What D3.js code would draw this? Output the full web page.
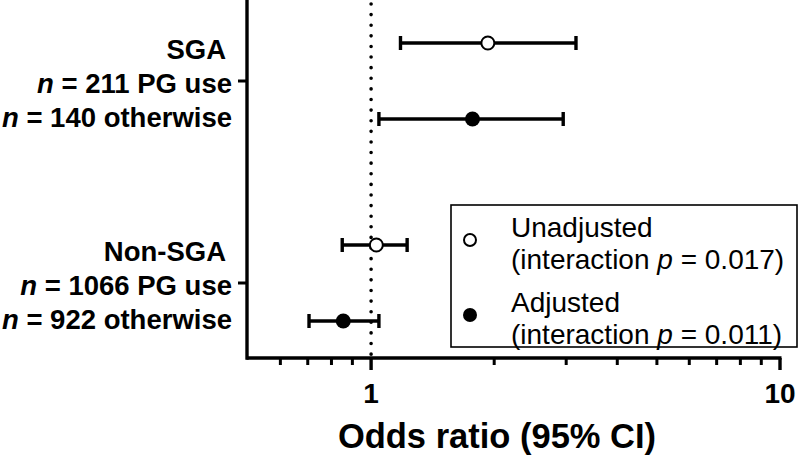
<!DOCTYPE html>
<html>
<head>
<meta charset="utf-8">
<script src="https://cdn.jsdelivr.net/npm/d3@7/dist/d3.min.js"></script>
<style>
  html, body { margin: 0; padding: 0; background: #fff; }
  svg { display: block; font-family: "Liberation Sans", Arial, Helvetica, sans-serif; }
</style>
</head>
<body>
<svg id="chart" width="800" height="459"></svg>
<script>
// ---- data ----
const groups = ["SGA", "Non-SGA"];
const groupN1 = ["211 PG use", "1066 PG use"];
const groupN2 = ["140 otherwise", "922 otherwise"];
const series = ["Unadjusted", "Adjusted"];
const seriesP = ["0.017", "0.011"];
const unadjOR = [1.93, 1.03];
const unadjLo = [1.18, 0.85];
const unadjHi = [3.17, 1.225];
const adjOR = [1.77, 0.855];
const adjLo = [1.045, 0.705];
const adjHi = [2.95, 1.045];
const majorTicks = [1, 10];
const minorTicks = [0.6, 0.7, 0.8, 0.9, 2, 3, 4, 5, 6, 7, 8, 9];

const rows = [];
groups.forEach((g, i) => {
  rows.push({ group: g, series: "Unadjusted", or: unadjOR[i], lo: unadjLo[i], hi: unadjHi[i] });
  rows.push({ group: g, series: "Adjusted", or: adjOR[i], lo: adjLo[i], hi: adjHi[i] });
});

// ---- layout ----
const svg = d3.select("#chart");
const plotLeft = 248, plotRight = 780, plotTop = 0, plotBottom = 358;

const x = d3.scaleLog().domain([0.5, 10]).range([plotLeft, plotRight]);
const yGroup = d3.scalePoint().domain(groups).range([81, 283]);
const yOff = d3.scalePoint().domain(series).range([-38, 38]);
const yRow = d => yGroup(d.group) + yOff(d.series);

// reference dotted line at OR = 1
svg.append("line")
  .attr("x1", x(1)).attr("x2", x(1))
  .attr("y1", plotTop + 4).attr("y2", plotBottom)
  .attr("stroke", "#000").attr("stroke-width", 3.6)
  .attr("stroke-linecap", "round")
  .attr("stroke-dasharray", "0.01,10.6");

// axes
const axisG = svg.append("g");
axisG.append("line")
  .attr("x1", plotLeft - 1.5).attr("x2", plotRight + 1.5)
  .attr("y1", plotBottom).attr("y2", plotBottom)
  .attr("stroke", "#000").attr("stroke-width", 3.4);
axisG.append("line")
  .attr("x1", plotLeft - 1).attr("x2", plotLeft - 1)
  .attr("y1", plotTop).attr("y2", plotBottom + 1.7)
  .attr("stroke", "#000").attr("stroke-width", 3.4);

// x ticks
axisG.selectAll(".minor").data(minorTicks).join("line")
  .attr("x1", d => x(d)).attr("x2", d => x(d))
  .attr("y1", plotBottom).attr("y2", plotBottom + 7)
  .attr("stroke", "#000").attr("stroke-width", 3);
axisG.selectAll(".major").data(majorTicks).join("line")
  .attr("x1", d => x(d)).attr("x2", d => x(d))
  .attr("y1", plotBottom).attr("y2", plotBottom + 12)
  .attr("stroke", "#000").attr("stroke-width", 3.4);
axisG.selectAll(".tl").data(majorTicks).join("text")
  .attr("x", d => x(d)).attr("y", 403)
  .attr("text-anchor", "middle")
  .attr("font-size", 28).attr("font-weight", "bold")
  .text(d => d3.format("d")(d));

// x title
svg.append("text")
  .attr("x", 497).attr("y", 448)
  .attr("text-anchor", "middle")
  .attr("font-size", 34.5).attr("font-weight", "bold")
  .text("Odds ratio (95% CI)");

// y ticks
axisG.selectAll(".yt").data(groups).join("line")
  .attr("x1", plotLeft - 10).attr("x2", plotLeft)
  .attr("y1", d => yGroup(d)).attr("y2", d => yGroup(d))
  .attr("stroke", "#000").attr("stroke-width", 3);

// y labels
groups.forEach((g, i) => {
  const cy = yGroup(g);
  const t = svg.append("text")
    .attr("text-anchor", "end")
    .attr("font-size", 27.5).attr("font-weight", "bold");
  t.append("tspan").attr("x", 232).attr("dx", -6).attr("y", cy - 22).text(g);
  const l2 = t.append("tspan").attr("x", 232).attr("y", cy + 12);
  l2.append("tspan").attr("font-style", "italic").text("n");
  l2.append("tspan").text(" = " + groupN1[i]);
  const l3 = t.append("tspan").attr("x", 232).attr("y", cy + 46);
  l3.append("tspan").attr("font-style", "italic").text("n");
  l3.append("tspan").text(" = " + groupN2[i]);
});

// error bars
const capH = 7;
const bars = svg.append("g").selectAll("g").data(rows).join("g");
bars.append("line")
  .attr("x1", d => x(d.lo)).attr("x2", d => x(d.hi))
  .attr("y1", yRow).attr("y2", yRow)
  .attr("stroke", "#000").attr("stroke-width", 3.4);
bars.append("line")
  .attr("x1", d => x(d.lo)).attr("x2", d => x(d.lo))
  .attr("y1", d => yRow(d) - capH).attr("y2", d => yRow(d) + capH)
  .attr("stroke", "#000").attr("stroke-width", 3.4);
bars.append("line")
  .attr("x1", d => x(d.hi)).attr("x2", d => x(d.hi))
  .attr("y1", d => yRow(d) - capH).attr("y2", d => yRow(d) + capH)
  .attr("stroke", "#000").attr("stroke-width", 3.4);
bars.append("circle")
  .attr("cx", d => x(d.or)).attr("cy", yRow)
  .attr("r", d => d.series === "Unadjusted" ? 6.5 : 7.5)
  .attr("fill", d => d.series === "Unadjusted" ? "#fff" : "#000")
  .attr("stroke", "#000")
  .attr("stroke-width", d => d.series === "Unadjusted" ? 2 : 0);

// legend
const lg = svg.append("g");
lg.append("rect")
  .attr("x", 451).attr("y", 205).attr("width", 346).attr("height", 142)
  .attr("fill", "#fff").attr("stroke", "#000").attr("stroke-width", 1.6);
const legendY = [240, 315];
series.forEach((s, i) => {
  lg.append("circle")
    .attr("cx", 470).attr("cy", legendY[i])
    .attr("r", i === 0 ? 6 : 7)
    .attr("fill", i === 0 ? "#fff" : "#000")
    .attr("stroke", "#000").attr("stroke-width", i === 0 ? 2 : 0);
  const t = lg.append("text").attr("font-size", 28);
  t.append("tspan").attr("x", 511).attr("y", legendY[i] - 3).text(s);
  const l2 = t.append("tspan").attr("x", 511).attr("y", legendY[i] + 29);
  l2.append("tspan").text("(interaction ");
  l2.append("tspan").attr("font-style", "italic").text("p");
  l2.append("tspan").text(" = " + seriesP[i] + ")");
});
</script>
</body>
</html>
